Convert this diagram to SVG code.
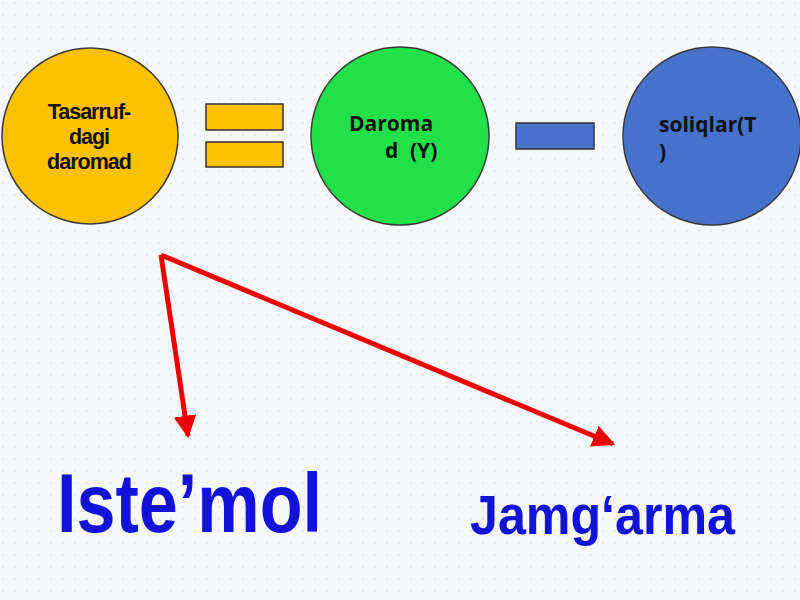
<svg xmlns="http://www.w3.org/2000/svg" width="800" height="600" viewBox="0 0 800 600">
<defs>
<pattern id="dots" width="12" height="12" patternUnits="userSpaceOnUse">
<rect width="12" height="12" fill="#f6f7f9"/>
<circle cx="3" cy="3" r="0.8" fill="#d4d6da"/>
</pattern>
<marker id="ah" viewBox="0 0 10 10" refX="9" refY="5" markerWidth="4.5" markerHeight="4.5" orient="auto" markerUnits="strokeWidth">
<path d="M0,0 L10,5 L0,10 z" fill="#ee0000"/>
</marker>
<style>
.node { stroke: #3a3a3a; stroke-width: 1.5; }
.lbl { font-family: "Open Sans", "DejaVu Sans", sans-serif; font-weight: bold; font-size: 21px; fill: #111; }
.lbl2 { font-family: "Liberation Sans", Arial, sans-serif; font-weight: bold; font-size: 21.5px; fill: #111; letter-spacing: -1px; }
.op { stroke: #333; stroke-width: 1.5; }
.conn { stroke: #ee0000; stroke-width: 5; fill: none; marker-end: url(#ah); }
.word { font-family: "Liberation Sans", Arial, sans-serif; font-weight: bold; fill: #1212d8; }
</style>
</defs>
<rect width="800" height="600" fill="url(#dots)"/>

<g id="node-tasarruf">
<circle class="node" cx="90" cy="136" r="88" fill="#fbc102"/>
<text class="lbl2" text-anchor="middle"><tspan x="89" y="119">Tasarruf-</tspan><tspan x="89" y="144">dagi</tspan><tspan x="89" y="169">daromad</tspan></text>
</g>

<g id="op-equals">
<rect class="op" x="206" y="104" width="77" height="26" fill="#fbc102"/>
<rect class="op" x="206" y="142" width="77" height="25" fill="#fbc102"/>
</g>

<g id="node-daromad">
<circle class="node" cx="400" cy="136" r="89" fill="#22e04a"/>
<text class="lbl"><tspan x="349" y="131">Daroma</tspan><tspan x="385" y="158">d</tspan><tspan x="410" y="158">(Y)</tspan></text>
</g>

<g id="op-minus">
<rect class="op" x="516" y="123" width="78" height="26" fill="#4a74cf"/>
</g>

<g id="node-soliqlar">
<circle class="node" cx="712" cy="136" r="89" fill="#4672cc"/>
<text class="lbl"><tspan x="659" y="132">soliqlar(T</tspan><tspan x="659" y="159">)</tspan></text>
</g>

<g id="connectors">
<line class="conn" x1="161" y1="255" x2="188" y2="436"/>
<line class="conn" x1="161" y1="255" x2="613" y2="444"/>
</g>

<g id="node-istemol">
<text class="word" x="57" y="532" font-size="84" textLength="265" lengthAdjust="spacingAndGlyphs">Iste’mol</text>
</g>

<g id="node-jamgarma">
<text class="word" x="470" y="534" font-size="56" textLength="265" lengthAdjust="spacingAndGlyphs">Jamg‘arma</text>
</g>
</svg>
